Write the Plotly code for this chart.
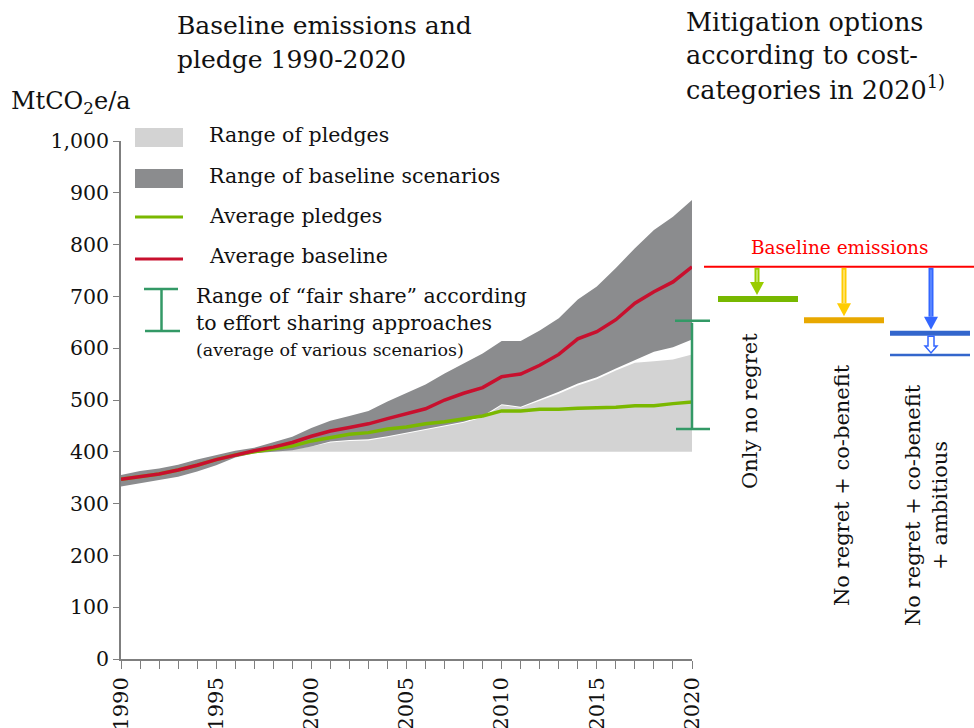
import plotly.graph_objects as go

years = list(range(1990, 2021))

avg_baseline = [347, 352, 357, 365, 374, 385, 394, 402, 409, 418, 430,
                440, 447, 454, 464, 474, 483, 500, 513, 524, 545,
                550, 567, 588, 618, 632, 655, 687, 709, 728, 757]
avg_pledges = [347, 352, 357, 365, 374, 385, 394, 400, 405, 411, 421,
               428, 434, 437, 444, 448, 454, 458, 464, 469, 479,
               479, 482, 482, 484, 485, 486, 489, 489, 493, 496]
baseline_upper = [355, 363, 368, 375, 385, 394, 402, 408, 418, 429, 446,
                  460, 469, 479, 497, 513, 530, 551, 571, 590, 614,
                  614, 634, 658, 694, 719, 755, 793, 828, 854, 886]
baseline_lower = [333, 339, 346, 352, 362, 374, 389, 397, 400, 403, 410,
                  420, 423, 424, 430, 437, 443, 450, 458, 469, 492,
                  487, 501, 516, 532, 544, 561, 577, 593, 602, 617]
pledge_years = list(range(1997, 2021))
pledge_lower = [400] * len(pledge_years)
pledge_upper = [400, 402, 405, 410, 418, 421, 422, 428, 435, 441, 448,
                456, 466, 490, 485, 498, 512, 528, 540, 557, 572, 575, 578, 588]

fair_share_low = 444
fair_share_high = 653

baseline_2020 = 757
option_levels = [695, 654, 629]
ambitious_extra = 587
option_labels = ["Only no regret", "No regret + co-benefit", "No regret + co-benefit<br>+ ambitious"]

FONT = "DejaVu Serif"
DARK = "#8b8c8e"
LIGHT = "#d3d3d3"
GREEN = "#7ab800"
RED = "#c8102e"
FAIR = "#339966"
TXT = "#111111"

W, H = 974, 728
L, R, T, B = 121, 692, 141, 659


def px_x(p):
    return (p - L) / (R - L)


def px_y(p):
    return (B - p) / (B - T)


fig = go.Figure()
fig.add_trace(go.Scatter(x=pledge_years, y=pledge_lower, mode="lines",
                         line=dict(width=0, color=LIGHT), showlegend=False, hoverinfo="skip"))
fig.add_trace(go.Scatter(x=pledge_years, y=pledge_upper, mode="lines", fill="tonexty",
                         fillcolor=LIGHT, line=dict(width=0, color=LIGHT), showlegend=False))
fig.add_trace(go.Scatter(x=years, y=baseline_lower, mode="lines",
                         line=dict(width=0, color=DARK), showlegend=False, hoverinfo="skip"))
fig.add_trace(go.Scatter(x=years, y=baseline_upper, mode="lines", fill="tonexty",
                         fillcolor=DARK, line=dict(width=0, color=DARK), showlegend=False))
fig.add_trace(go.Scatter(x=years, y=avg_pledges, mode="lines",
                         line=dict(width=3.5, color=GREEN), showlegend=False))
fig.add_trace(go.Scatter(x=years, y=avg_baseline, mode="lines",
                         line=dict(width=3.5, color=RED), showlegend=False))

shapes = []
annots = []

# fair share bracket at 2020 (right edge of plot)
shapes.append(dict(type="line", xref="paper", yref="y", x0=1.0, x1=1.0,
                   y0=fair_share_low, y1=fair_share_high - 4, line=dict(color=FAIR, width=2.5)))
shapes.append(dict(type="line", xref="paper", yref="y", x0=px_x(675), x1=px_x(710),
                   y0=fair_share_high, y1=fair_share_high, line=dict(color=FAIR, width=2.5)))
shapes.append(dict(type="line", xref="paper", yref="y", x0=px_x(676), x1=px_x(710),
                   y0=fair_share_low, y1=fair_share_low, line=dict(color=FAIR, width=2.5)))

# ---- custom legend ----
shapes.append(dict(type="rect", xref="paper", yref="paper", x0=px_x(135), x1=px_x(183),
                   y0=px_y(147), y1=px_y(128), fillcolor=LIGHT, line=dict(width=0)))
shapes.append(dict(type="rect", xref="paper", yref="paper", x0=px_x(135), x1=px_x(183),
                   y0=px_y(188), y1=px_y(169), fillcolor=DARK, line=dict(width=0)))
shapes.append(dict(type="line", xref="paper", yref="paper", x0=px_x(135), x1=px_x(183),
                   y0=px_y(217), y1=px_y(217), line=dict(color=GREEN, width=3)))
shapes.append(dict(type="line", xref="paper", yref="paper", x0=px_x(135), x1=px_x(183),
                   y0=px_y(259), y1=px_y(259), line=dict(color=RED, width=3)))
shapes.append(dict(type="line", xref="paper", yref="paper", x0=px_x(161.5), x1=px_x(161.5),
                   y0=px_y(289), y1=px_y(331), line=dict(color=FAIR, width=2.5)))
shapes.append(dict(type="line", xref="paper", yref="paper", x0=px_x(144), x1=px_x(178),
                   y0=px_y(289), y1=px_y(289), line=dict(color=FAIR, width=2.5)))
shapes.append(dict(type="line", xref="paper", yref="paper", x0=px_x(145), x1=px_x(180),
                   y0=px_y(331), y1=px_y(331), line=dict(color=FAIR, width=2.5)))

leg = [("Range of pledges", 207, 135, 20.5),
       ("Range of baseline scenarios", 207, 176, 20.5),
       ("Average pledges", 207, 216, 20.5),
       ("Average baseline", 207, 256, 20.5),
       ("Range of \u201cfair share\u201d according", 194, 296, 20.5),
       ("to effort sharing approaches", 194, 323, 20.5),
       ("(average of various scenarios)", 194, 350, 17.5)]
for txt, x, y, s in leg:
    annots.append(dict(text=txt, xref="paper", yref="paper", x=px_x(x), y=px_y(y),
                       xanchor="left", yanchor="middle", showarrow=False,
                       font=dict(family=FONT, size=s, color=TXT)))

# ---- titles ----
for txt, y in [("Baseline emissions and", 25), ("pledge 1990-2020", 59)]:
    annots.append(dict(text=txt, xref="paper", yref="paper", x=px_x(175), y=px_y(y),
                       xanchor="left", yanchor="middle", showarrow=False,
                       font=dict(family=FONT, size=25, color=TXT)))
for txt, y in [("Mitigation options", 22), ("according to cost-", 55),
               ("categories in 2020<sup>1)</sup>", 88)]:
    annots.append(dict(text=txt, xref="paper", yref="paper", x=px_x(684), y=px_y(y),
                       xanchor="left", yanchor="middle", showarrow=False,
                       font=dict(family=FONT, size=25.5, color=TXT)))
annots.append(dict(text="MtCO<sub>2</sub>e/a", xref="paper", yref="paper", x=px_x(9), y=px_y(103),
                   xanchor="left", yanchor="middle", showarrow=False,
                   font=dict(family=FONT, size=24, color=TXT)))

# ---- mitigation options panel ----
shapes.append(dict(type="line", xref="paper", yref="y", x0=px_x(704), x1=px_x(974),
                   y0=baseline_2020, y1=baseline_2020, line=dict(color="#ff0000", width=2)))
annots.append(dict(text="Baseline emissions", xref="paper", yref="paper", x=px_x(840), y=px_y(247),
                   xanchor="center", yanchor="middle", showarrow=False,
                   font=dict(family=FONT, size=18.5, color="#ff0000")))

cols = [dict(cx=757, x0=718, x1=798, bar="#77b800", arrow="#99cc00", inner="#ccee77", w=6),
        dict(cx=844, x0=804, x1=884, bar="#e8a800", arrow="#ffcc00", inner="#ffe680", w=6),
        dict(cx=931, x0=890, x1=970, bar="#3366cc", arrow="#3366ff", inner="#6690ff", w=5)]
px_unit = (B - T) / 1000.0  # pixels per data unit
dx = 1.0 / (R - L)          # paper per pixel
for c, lvl in zip(cols, option_levels):
    tip = lvl + (c["w"] / 2 + 1) / px_unit
    head_top = tip + 13 / px_unit
    xc = px_x(c["cx"])
    shapes.append(dict(type="line", xref="paper", yref="y", x0=xc, x1=xc,
                       y0=baseline_2020 - 1 / px_unit, y1=head_top, line=dict(color=c["arrow"], width=5)))
    shapes.append(dict(type="line", xref="paper", yref="y", x0=xc, x1=xc,
                       y0=baseline_2020 - 3 / px_unit, y1=head_top, line=dict(color=c["inner"], width=1.5)))
    shapes.append(dict(type="path", xref="paper", yref="y",
                       path=f"M {xc - 7 * dx},{head_top} L {xc + 7 * dx},{head_top} L {xc},{tip} Z",
                       fillcolor=c["arrow"], line=dict(width=0)))
    shapes.append(dict(type="line", xref="paper", yref="y", x0=px_x(c["x0"]), x1=px_x(c["x1"]),
                       y0=lvl, y1=lvl, line=dict(color=c["bar"], width=c["w"])))

# hollow arrow for ambitious
c = cols[2]
xc = px_x(c["cx"])
top = option_levels[2] - 3 / px_unit
tip = ambitious_extra + 2 / px_unit
hs = tip + 7 / px_unit
hollow = (f"M {xc - 3 * dx},{top} L {xc - 3 * dx},{hs} L {xc - 6 * dx},{hs} L {xc},{tip} "
          f"L {xc + 6 * dx},{hs} L {xc + 3 * dx},{hs} L {xc + 3 * dx},{top} Z")
shapes.append(dict(type="path", xref="paper", yref="y", path=hollow,
                   fillcolor="white", line=dict(color="#3366ff", width=1.5)))
shapes.append(dict(type="line", xref="paper", yref="y", x0=px_x(c["x0"]), x1=px_x(c["x1"]),
                   y0=ambitious_extra, y1=ambitious_extra, line=dict(color="#3366cc", width=2.5)))

label_pos = [(750, 411), (842, 485), (927, 505)]
for txt, (x, y) in zip(option_labels, label_pos):
    annots.append(dict(text=txt, xref="paper", yref="paper", x=px_x(x), y=px_y(y),
                       xanchor="center", yanchor="middle", showarrow=False, textangle=-90,
                       align="center", font=dict(family=FONT, size=21, color=TXT)))

fig.update_layout(
    width=W, height=H,
    margin=dict(l=L, r=W - R, t=T, b=H - B, pad=0, autoexpand=False),
    paper_bgcolor="white", plot_bgcolor="white",
    showlegend=False,
    shapes=shapes, annotations=annots,
    xaxis=dict(range=[1990, 2020], tickvals=list(range(1990, 2021, 5)), tickangle=-90,
               automargin=False,
               showgrid=False, zeroline=False, showline=True, linecolor="#7f7f7f", linewidth=1.5,
               ticks="outside", ticklen=8, tickcolor="#7f7f7f", tickwidth=1.2,
               minor=dict(dtick=1, ticks="outside", ticklen=8, tickcolor="#7f7f7f", tickwidth=1.2),
               tickfont=dict(family=FONT, size=21, color=TXT)),
    yaxis=dict(range=[0, 1000], dtick=100, tickformat=",", showgrid=False, zeroline=False,
               automargin=False,
               showline=True, linecolor="#7f7f7f", linewidth=1.5,
               ticks="outside", ticklen=6, tickcolor="#7f7f7f", tickwidth=1.2,
               tickfont=dict(family=FONT, size=20.5, color=TXT)),
)

fig.write_html("out.html", config={"displayModeBar": False},
               post_script="document.body.style.margin='0';document.body.style.overflow='hidden';")
